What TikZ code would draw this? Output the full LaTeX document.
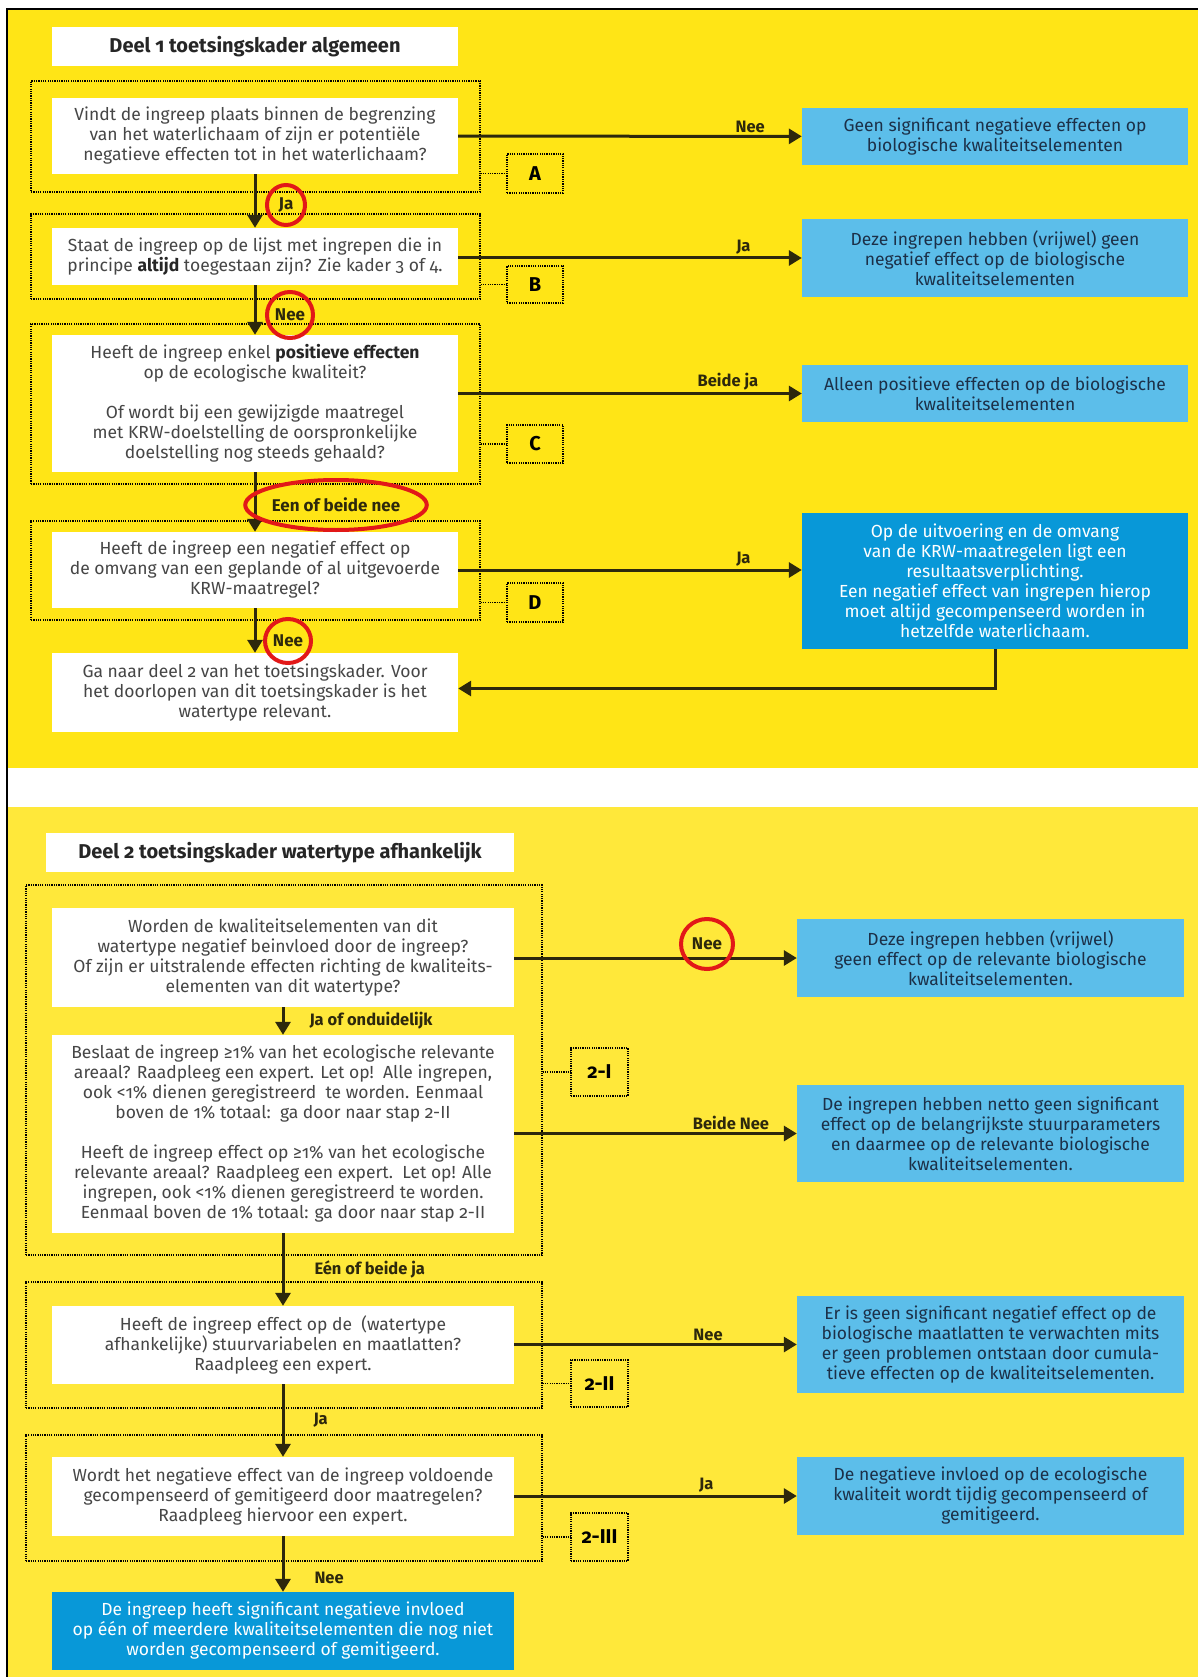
\documentclass[tikz,border=0pt]{standalone}
\usepackage{fontspec}
\setmainfont{Fira Sans}[Numbers=OldStyle]
\usetikzlibrary{positioning,arrows.meta,shapes.geometric}

\definecolor{geel}{RGB}{255,229,22}
\definecolor{geellicht}{RGB}{255,232,58}
\definecolor{lichtblauw}{RGB}{92,190,234}
\definecolor{donkerblauw}{RGB}{8,152,216}
\definecolor{tekstgrijs}{RGB}{70,70,70}
\definecolor{tekstblauw}{RGB}{28,48,72}
\definecolor{lijnkleur}{RGB}{45,40,12}
\definecolor{rood}{RGB}{226,24,24}

\tikzset{
  vraag/.style={fill=white, text=tekstgrijs, align=center, inner sep=0pt, font=\fontsize{17.5}{20}\selectfont},
  uitkomst/.style={fill=lichtblauw, text=tekstblauw, align=center, inner sep=0pt, font=\fontsize{17.5}{20}\selectfont},
  donker/.style={uitkomst, fill=donkerblauw, text=white},
  titel/.style={fill=white, text=black!85, inner sep=0pt, font=\fontsize{20}{22}\selectfont\bfseries},
  kader/.style={draw=black, line width=1.2pt, dash pattern=on 1.2pt off 1.1pt, inner sep=0pt},
  letter/.style={kader, font=\fontsize{20}{22}\selectfont\bfseries},
  stip/.style={black, line width=1.2pt, dash pattern=on 1.2pt off 1.1pt},
  pijl/.style={-{Triangle[width=15pt,length=13pt]}, line width=3pt, color=lijnkleur},
  antw/.style={text=lijnkleur, inner sep=2pt, font=\fontsize{16.5}{18}\selectfont\bfseries},
  ring/.style={ellipse, draw=rood, line width=4pt, inner sep=0pt, text=lijnkleur, font=\fontsize{17}{18}\selectfont\bfseries}
}

\begin{document}
\begin{tikzpicture}[x=1pt,y=-1pt]
\useasboundingbox (0,0) rectangle (1198,1677);

    \fill[geel] (7,9) rectangle (1198,768);
    \fill[geellicht] (7,807) rectangle (1198,1677);
    \draw[line width=2.5pt] (7,1677) -- (7,9) -- (1198,9);

    \node[titel, minimum width=406pt, minimum height=39pt] (t1) at (255,47) {Deel 1 toetsingskader algemeen};

    \node[kader, minimum width=449pt, minimum height=111pt] (kA) at (255.5,136.5) {};
    \node[kader, minimum width=449pt, minimum height=85pt] (kB) at (255.5,256.5) {};
    \node[kader, minimum width=449pt, minimum height=160pt] (kC) at (255.5,404) {};
    \node[kader, minimum width=449pt, minimum height=99pt] (kD) at (255.5,570.5) {};

    \node[vraag, minimum width=406pt, minimum height=76pt] (q1) at (255,136) {Vindt de ingreep plaats binnen de begrenzing\\ van het waterlichaam of zijn er potentiële\\ negatieve effecten tot in het waterlichaam?};
    \node[vraag, minimum width=406pt, minimum height=57pt] (q2) at (255,256.5) {Staat de ingreep op de lijst met ingrepen die in\\ principe \textbf{\color{black!85}altijd} toegestaan zijn? Zie kader 3 of 4.};
    \node[vraag, minimum width=406pt, minimum height=137pt] (q3) at (255,403.5) {Heeft de ingreep enkel \textbf{\color{black!85}positieve effecten}\\ op de ecologische kwaliteit?\\[20pt] Of wordt bij een gewijzigde maatregel\\ met KRW-doelstelling de oorspronkelijke\\ doelstelling nog steeds gehaald?};
    \node[vraag, minimum width=406pt, minimum height=76pt] (q4) at (255,570) {Heeft de ingreep een negatief effect op\\ de omvang van een geplande of al uitgevoerde\\ KRW-maatregel?};
    \node[vraag, minimum width=406pt, minimum height=79pt] (q5) at (255,692.5) {Ga naar deel 2 van het toetsingskader. Voor\\ het doorlopen van dit toetsingskader is het\\ watertype relevant.};

    \node[uitkomst, minimum width=386pt, minimum height=57pt] (r1) at (995,136.5) {Geen significant negatieve effecten op\\ biologische kwaliteitselementen};
    \node[uitkomst, minimum width=386pt, minimum height=78pt] (r2) at (995,258) {Deze ingrepen hebben (vrijwel) geen\\ negatief effect op de biologische\\ kwaliteitselementen};
    \node[uitkomst, minimum width=386pt, minimum height=57pt] (r3) at (995,393.5) {Alleen positieve effecten op de biologische\\ kwaliteitselementen};
    \node[donker, minimum width=386pt, minimum height=136pt] (r4) at (995,581) {Op de uitvoering en de omvang\\ van de KRW-maatregelen ligt een\\ resultaatsverplichting.\\ Een negatief effect van ingrepen hierop\\ moet altijd gecompenseerd worden in\\ hetzelfde waterlichaam.};

    \node[letter, minimum width=56pt, minimum height=39pt] (lA) at (535,173.5) {A};
    \node[letter, minimum width=56pt, minimum height=37pt] (lB) at (535,284.5) {B};
    \node[letter, minimum width=56pt, minimum height=38pt] (lC) at (535,444) {C};
    \node[letter, minimum width=56pt, minimum height=39pt] (lD) at (535,602.5) {D};
    \draw[stip] (kA.east |- lA) -- (lA.west);
    \draw[stip] (kB.east |- lB) -- (lB.west);
    \draw[stip] (kC.east |- lC) -- (lC.west);
    \draw[stip] (kD.east |- lD) -- (lD.west);

   \draw[pijl] (q1) -- node[antw, above, pos=0.85] {Nee} (r1);
   \draw[pijl] (q2.east |- r2.west) -- node[antw, above, pos=0.83] {Ja} (r2.west);
   \draw[pijl] (q3.east |- r3.west) -- node[antw, above, pos=0.785] {Beide ja} (r3.west);
   \draw[pijl] (q4.east) -- node[antw, above, pos=0.83] {Ja} (q4.east -| r4.west);
   \draw[pijl] (r4.south) |- ([yshift=4pt]q5.east);

   \draw[pijl] (q1) -- (q2);
   \draw[pijl] (q2) -- (q3);
   \draw[pijl] (q3) -- (q4);
   \draw[pijl] (q4) -- (q5);
    \node[ring, minimum width=38pt, minimum height=40pt] (o1) at (286,205) {Ja};
    \node[ring, minimum width=46pt, minimum height=46pt] (o2) at (290,315) {Nee};
    \node[ring, minimum width=146pt, minimum height=50pt] (o3) at (336,505) {Een of beide nee};
    \node[ring, minimum width=46pt, minimum height=44pt] (o4) at (288,641) {Nee};


    \node[titel, minimum width=468pt, minimum height=39pt] (t2) at (280,852.5) {Deel 2 toetsingskader watertype afhankelijk};

    \node[kader, minimum width=516pt, minimum height=370pt] (kI) at (284,1070) {};
    \node[kader, minimum width=516pt, minimum height=126pt] (kII) at (284,1345) {};
    \node[kader, minimum width=516pt, minimum height=126pt] (kIII) at (284,1498) {};

    \node[vraag, minimum width=462pt, minimum height=99pt] (q6) at (283,957.5) {Worden de kwaliteitselementen van dit\\ watertype negatief beinvloed door de ingreep?\\ Of zijn er uitstralende effecten richting de kwaliteits-\\ elementen van dit watertype?};
    \node[vraag, minimum width=462pt, minimum height=198pt] (q7) at (283,1134) {Beslaat de ingreep ≥1\% van het ecologische relevante\\ areaal? Raadpleeg een expert. Let op!\ \ Alle ingrepen,\\ ook <1\% dienen geregistreerd\ \ te worden. Eenmaal\\ boven de 1\% totaal:\ \ ga door naar stap 2-II\\[20pt] Heeft de ingreep effect op ≥1\% van het ecologische\\ relevante areaal? Raadpleeg een expert.\ \ Let op! Alle\\ ingrepen, ook <1\% dienen geregistreerd te worden.\\ Eenmaal boven de 1\% totaal: ga door naar stap 2-II};
    \node[vraag, minimum width=462pt, minimum height=78pt] (q8) at (283,1345) {Heeft de ingreep effect op de\ \ (watertype\\ afhankelijke) stuurvariabelen en maatlatten?\\ Raadpleeg een expert.};
    \node[vraag, minimum width=462pt, minimum height=79pt] (q9) at (283,1496.5) {Wordt het negatieve effect van de ingreep voldoende\\ gecompenseerd of gemitigeerd door maatregelen?\\ Raadpleeg hiervoor een expert.};
    \node[donker, minimum width=462pt, minimum height=78pt] (f) at (283,1631) {De ingreep heeft significant negatieve invloed\\ op één of meerdere kwaliteitselementen die nog niet\\ worden gecompenseerd of gemitigeerd.};

    \node[uitkomst, minimum width=387pt, minimum height=78pt] (r6) at (990.5,958) {Deze ingrepen hebben (vrijwel)\\ geen effect op de relevante biologische\\ kwaliteitselementen.};
    \node[uitkomst, minimum width=387pt, minimum height=97pt] (r7) at (990.5,1133.5) {De ingrepen hebben netto geen significant\\ effect op de belangrijkste stuurparameters\\ en daarmee op de relevante biologische\\ kwaliteitselementen.};
    \node[uitkomst, minimum width=387pt, minimum height=97pt] (r8) at (990.5,1344.5) {Er is geen significant negatief effect op de\\ biologische maatlatten te verwachten mits\\ er geen problemen ontstaan door cumula-\\ tieve effecten op de kwaliteitselementen.};
    \node[uitkomst, minimum width=387pt, minimum height=78pt] (r9) at (990.5,1496) {De negatieve invloed op de ecologische\\ kwaliteit wordt tijdig gecompenseerd of\\ gemitigeerd.};

    \node[letter, minimum width=57pt, minimum height=48pt] (lI) at (599.5,1072) {2-I};
    \node[letter, minimum width=57pt, minimum height=47pt] (lII) at (599.5,1383.5) {2-II};
    \node[letter, minimum width=57pt, minimum height=48pt] (lIII) at (599.5,1537) {2-III};
    \draw[stip] (kI.east |- lI) -- (lI.west);
    \draw[stip] (kII.east |- lII) -- (lII.west);
    \draw[stip] (kIII.east |- lIII) -- (lIII.west);

   \draw[pijl] (q6.east |- r6.west) -- (r6.west);
   \draw[pijl] (q7.east |- r7.west) -- node[antw, above, pos=0.767] {Beide Nee} (r7.west);
   \draw[pijl] (q8.east |- r8.west) -- node[antw, above, pos=0.686] {Nee} (r8.west);
   \draw[pijl] (q9.east |- r9.west) -- node[antw, above, pos=0.68] {Ja} (r9.west);
    \node[ring, minimum width=52pt, minimum height=50pt] (o5) at (707,944) {Nee};

   \draw[pijl] (q6) -- node[antw, right, xshift=23pt] {Ja of onduidelijk} (q7);
   \draw[pijl] (q7) -- node[antw, right, xshift=28pt] {Eén of beide ja} (q8);
   \draw[pijl] (q8) -- node[antw, right, xshift=27pt] {Ja} (q9);
   \draw[pijl] (q9) -- node[antw, right, pos=0.75, xshift=28pt] {Nee} (f);
\end{tikzpicture}
\end{document}
